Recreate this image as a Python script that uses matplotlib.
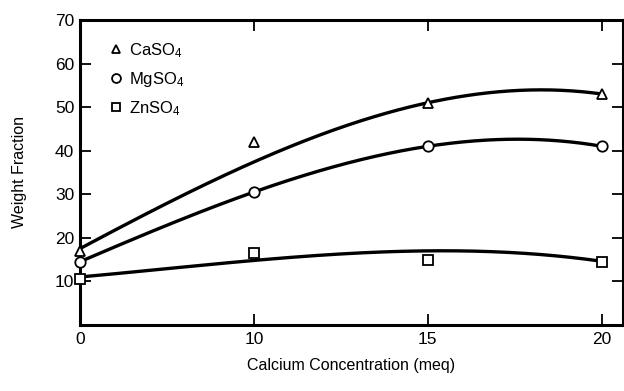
import numpy as np
import matplotlib.pyplot as plt
import matplotlib as mpl

mpl.rcParams['font.family'] = 'Liberation Sans'
mpl.rcParams['mathtext.fontset'] = 'custom'
mpl.rcParams['mathtext.rm'] = 'Liberation Sans'
mpl.rcParams['mathtext.it'] = 'Liberation Sans'

# calcium concentration (meq); the axis places them at evenly spaced positions
conc_labels = ['0', '10', '15', '20']

# measured weight fractions
ca_so4 = [17, 42, 51, 53]
mg_so4 = [14.5, 30.5, 41, 41]
zn_so4 = [10.5, 16.5, 15, 14.5]

# smoothed trend values at the same concentrations
ca_trend = [17.5, 37.4, 51, 53]
mg_trend = [14.5, 30.5, 41, 41]
zn_trend = [11, 14.8, 17, 14.6]

series = [('CaSO$_4$', ca_so4, ca_trend, '^'),
          ('MgSO$_4$', mg_so4, mg_trend, 'o'),
          ('ZnSO$_4$', zn_so4, zn_trend, 's')]

fig = plt.figure(figsize=(6.24, 3.91), dpi=100)
ax = fig.add_axes([0.128, 0.169, 0.870, 0.780])

pos = np.arange(len(conc_labels))
xs = np.linspace(pos[0], pos[-1], 300)
for name, vals, trend, mk in series:
    coef = np.polyfit(pos, trend, 3)
    ax.plot(xs, np.polyval(coef, xs), color='k', lw=2.4, zorder=2)
    ax.plot(pos, vals, ls='none', marker=mk, ms=7.5, mfc='w', mec='k', mew=1.3,
            zorder=3, clip_on=False, label=name)

ax.set_xlim(0, 3.12)
ax.set_ylim(0, 70)
ax.set_xticks(pos)
ax.set_xticklabels(conc_labels)
ax.set_yticks(np.arange(10, 71, 10))
ax.tick_params(direction='in', length=8, width=1.3, labelsize=12.5, top=True, right=True)
ax.tick_params(axis='x', pad=5)
ax.tick_params(axis='y', pad=4)
for s in ax.spines.values():
    s.set_linewidth(2.2)

ax.set_xlabel('Calcium Concentration (meq)', fontsize=11.5, labelpad=8)
ax.set_ylabel('Weight Fraction', fontsize=11.5, labelpad=20)

ax.legend(loc='upper left', frameon=False, fontsize=12, handletextpad=0.3,
          handlelength=1.0, labelspacing=0.6, borderaxespad=0.6, markerscale=0.85,
          bbox_to_anchor=(0.02, 0.985))

fig.savefig('out.png', dpi=100)
